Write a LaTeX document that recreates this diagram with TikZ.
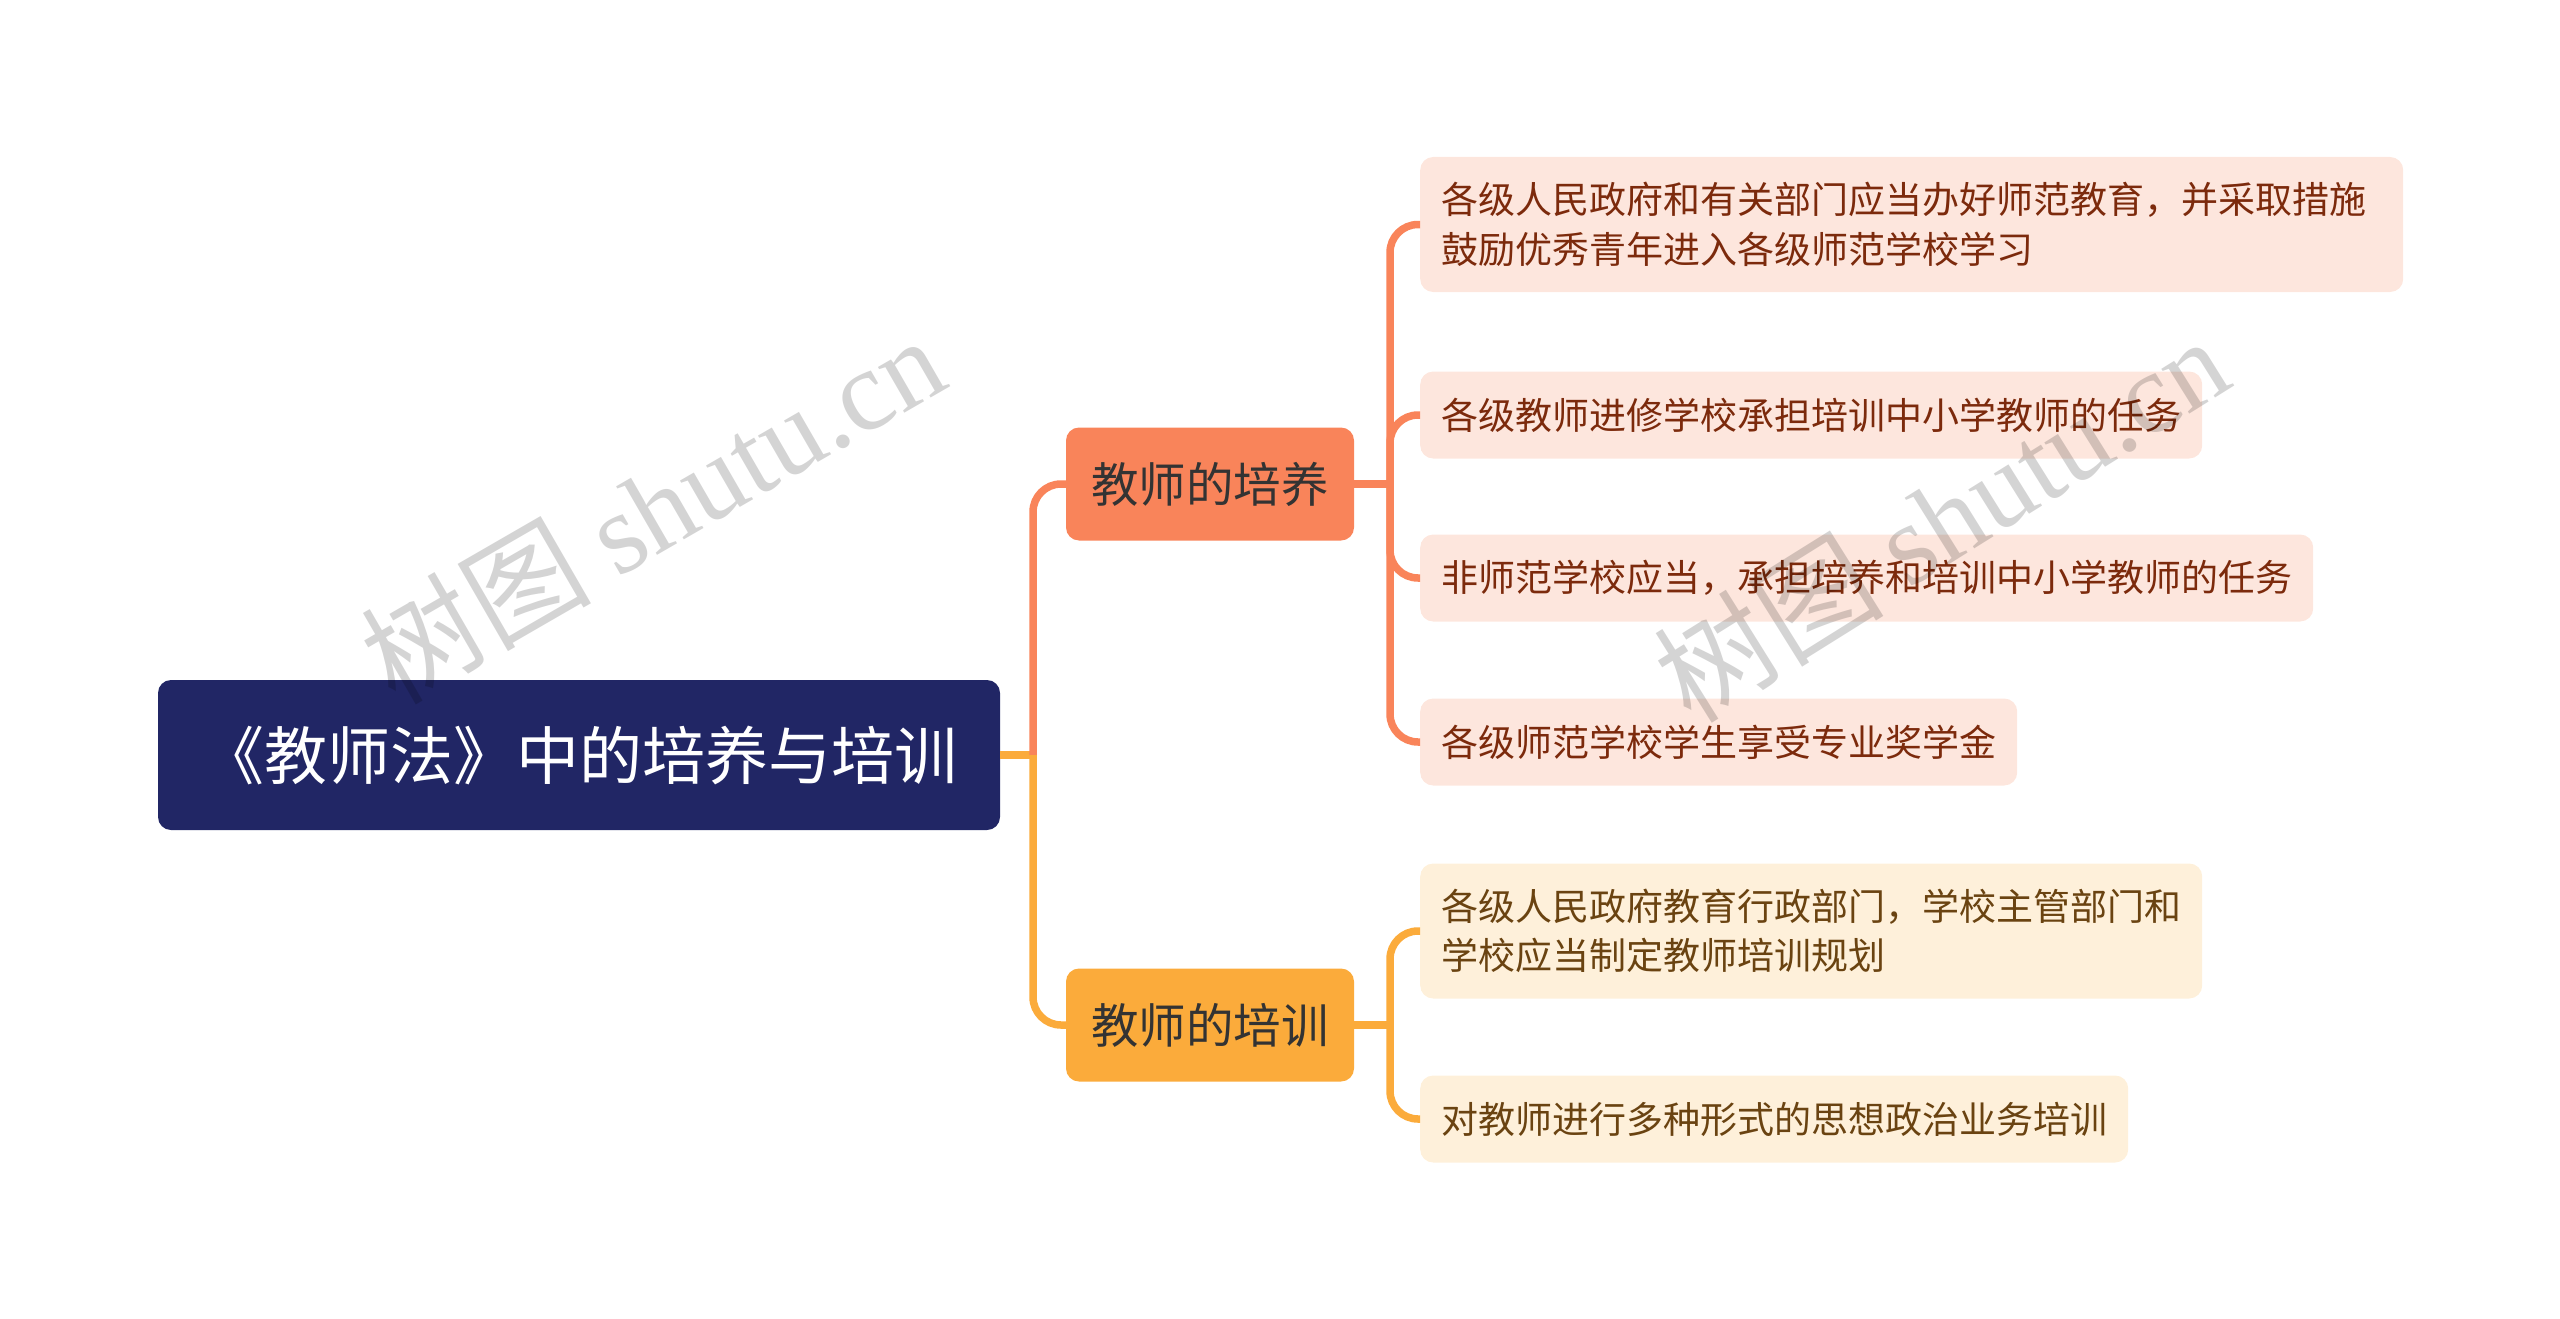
\documentclass[tikz,border=0pt]{standalone}
\usepackage{fontspec}
\setmainfont{Noto Sans CJK SC}
\newfontfamily\markfont{Liberation Serif}
\usetikzlibrary{calc}

\definecolor{rootblue}{HTML}{212665}
\definecolor{coral}{HTML}{F9845A}
\definecolor{amber}{HTML}{FBAB3B}
\definecolor{peach}{HTML}{FDE6DD}
\definecolor{cream}{HTML}{FEF0DA}
\definecolor{rusttext}{HTML}{7C2A0C}
\definecolor{browntext}{HTML}{6A4311}

\tikzset{
	rootbox/.style={fill=rootblue, text=white, rounded corners=13pt,
		minimum width=842pt, minimum height=150pt,
		font=\fontsize{63}{63}\selectfont},
	branchbox/.style={rounded corners=13pt, text=black!80,
		minimum width=288pt, minimum height=113pt,
		font=\fontsize{47.5}{47.5}\selectfont},
	leafbox/.style={anchor=west, rounded corners=13pt, inner xsep=21pt,
		minimum height=87pt, font=\fontsize{37}{49.5}\selectfont},
	twoline/.style={minimum height=135pt, align=left, text width=#1},
	link/.style={line width=7.5pt, rounded corners=28pt},
	watermark/.style={text=black, text opacity=0.17,
		font=\fontsize{115}{115}\selectfont},
}

\newcommand{\twig}[3] % colour, joint, leaf node
{
	\draw[link, #1] (#2) |- (#3.west);
}

\begin{document}
\begin{tikzpicture}[x=1pt, y=-1pt]
	% 2560 x 1319 px canvas
	\useasboundingbox (0,0) rectangle (2560,1319);

	% root and the two branches
	\node[rootbox] (root) at (579, 755) {《教师法》中的培养与培训};
	\node[branchbox, fill=coral] (peiyang) at (1210, 484) {教师的培养};
	\node[branchbox, fill=amber] (peixun) at (1210, 1025) {教师的培训};

	% leaves of 培养
	\node[leafbox, fill=peach, text=rusttext, twoline=941pt] (py1) at (1420, 224.5)
		{各级人民政府和有关部门应当办好师范教育，并采取措施\\鼓励优秀青年进入各级师范学校学习};
	\node[leafbox, fill=peach, text=rusttext] (py2) at (1420, 415)
		{各级教师进修学校承担培训中小学教师的任务};
	\node[leafbox, fill=peach, text=rusttext] (py3) at (1420, 578)
		{非师范学校应当，承担培养和培训中小学教师的任务};
	\node[leafbox, fill=peach, text=rusttext] (py4) at (1420, 742)
		{各级师范学校学生享受专业奖学金};

	% leaves of 培训
	\node[leafbox, fill=cream, text=browntext, twoline=740pt] (px1) at (1420, 931)
		{各级人民政府教育行政部门，学校主管部门和\\学校应当制定教师培训规划};
	\node[leafbox, fill=cream, text=browntext] (px2) at (1420, 1119)
		{对教师进行多种形式的思想政治业务培训};

	% joints
	\coordinate (rootjoint) at (1033, 755);
	\coordinate (pyjoint) at (1390, 484);
	\coordinate (pxjoint) at (1390, 1025);

	% root to branches
	\draw[link, amber] (root.east) -- (rootjoint);
	\twig{coral}{rootjoint}{peiyang}
	\twig{amber}{rootjoint}{peixun}

	% branches to leaves
	\draw[link, coral] (peiyang.east) -- (pyjoint);
	\twig{coral}{pyjoint}{py1}
	\twig{coral}{pyjoint}{py2}
	\twig{coral}{pyjoint}{py3}
	\twig{coral}{pyjoint}{py4}

	\draw[link, amber] (peixun.east) -- (pxjoint);
	\twig{amber}{pxjoint}{px1}
	\twig{amber}{pxjoint}{px2}

	% watermarks
	\node[watermark, rotate=30] (wm1) at (652, 508) {树图 {\markfont shutu.cn}};
	\node[watermark, rotate=32] (wm2) at (1941, 518) {树图 {\markfont shutu.cn}};
\end{tikzpicture}
\end{document}
